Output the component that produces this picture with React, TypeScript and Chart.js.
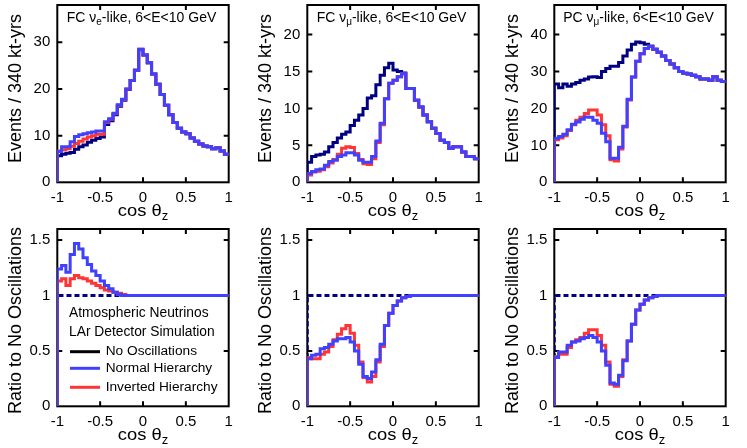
import React, { useEffect, useRef } from "react";
import { Chart, registerables } from "chart.js";

Chart.register(...registerables);

const FONT = "'Liberation Sans', Arial, Helvetica, sans-serif";
const NAVY = "#000080";
const BLUE = "#4040ff";
const RED = "#ff3535";

// bin edges in cos(theta_z)
const cosThetaEdges = [
  -1, -0.95, -0.9, -0.85, -0.8, -0.75, -0.7, -0.65, -0.6, -0.55, -0.5, -0.45, -0.4, -0.35, -0.3,
  -0.25, -0.2, -0.15, -0.1, -0.05, 0, 0.05, 0.1, 0.15, 0.2, 0.25, 0.3, 0.35, 0.4, 0.45, 0.5, 0.55,
  0.6, 0.65, 0.7, 0.75, 0.8, 0.85, 0.9, 0.95, 1,
];
const xTickValues = [-1, -0.5, 0, 0.5, 1];

// ---- FC nu_e-like ----
const fcE_NoOsc = [5.7, 6.0, 6.2, 6.4, 7.1, 7.6, 8.0, 8.6, 9.0, 9.4, 9.7, 12.4, 13.2, 14.5, 16.3, 17.6, 19.9, 21.8, 24.0, 28.4, 27.3, 25.6, 23.2, 21.0, 18.8, 16.5, 14.5, 12.8, 11.6, 10.8, 10.4, 9.5, 8.8, 8.2, 7.8, 7.6, 7.2, 7.4, 6.7, 6.0];
const fcE_NH = [6.6, 7.6, 7.6, 8.7, 9.8, 10.2, 10.4, 10.6, 10.8, 11.0, 11.0, 13.0, 13.6, 14.8, 16.6, 17.8, 20.0, 21.8, 24.0, 28.5, 27.3, 25.6, 23.2, 21.0, 18.8, 16.5, 14.5, 12.8, 11.6, 10.8, 10.4, 9.5, 8.8, 8.2, 7.8, 7.6, 7.2, 7.4, 6.7, 6.0];
const fcE_IH = [6.7, 7.0, 7.2, 7.7, 8.3, 8.8, 9.3, 9.7, 10.0, 10.3, 10.3, 12.8, 13.5, 14.7, 16.5, 17.7, 20.0, 21.8, 24.0, 28.5, 27.3, 25.6, 23.2, 21.0, 18.8, 16.5, 14.5, 12.8, 11.6, 10.8, 10.4, 9.5, 8.8, 8.2, 7.8, 7.6, 7.2, 7.4, 6.7, 6.0];

// ---- FC nu_mu-like ----
const fcMu_NoOsc = [2.7, 3.5, 3.7, 3.8, 4.1, 4.8, 5.4, 6.0, 6.5, 6.8, 7.7, 8.4, 9.1, 10.0, 11.4, 11.7, 13.2, 14.5, 15.5, 16.1, 15.2, 15.0, 14.8, 12.7, 12.7, 11.1, 10.2, 9.1, 8.2, 7.3, 6.6, 5.7, 5.4, 4.6, 4.8, 4.8, 4.1, 3.5, 3.5, 3.2];
const fcMu_NH = [1.2, 1.45, 1.7, 1.8, 2.3, 2.8, 3.0, 3.5, 3.7, 4.0, 4.0, 3.7, 3.0, 2.7, 2.7, 3.5, 5.6, 8.0, 11.3, 13.4, 13.8, 14.3, 14.7, 12.7, 12.7, 11.1, 10.2, 9.1, 8.2, 7.3, 6.6, 5.7, 5.4, 4.6, 4.8, 4.8, 4.1, 3.5, 3.5, 3.2];
const fcMu_IH = [1.0, 1.4, 1.5, 1.7, 2.1, 2.6, 3.1, 3.8, 4.6, 4.8, 4.7, 3.9, 3.1, 2.5, 2.4, 3.2, 5.4, 7.8, 11.3, 13.4, 13.8, 14.3, 14.7, 12.7, 12.7, 11.1, 10.2, 9.1, 8.2, 7.3, 6.6, 5.7, 5.4, 4.6, 4.8, 4.8, 4.1, 3.5, 3.5, 3.2];

// ---- PC nu_mu-like ----
const pcMu_NoOsc = [26.6, 25.6, 26.6, 26.0, 26.6, 27.0, 27.6, 28.0, 28.5, 28.6, 28.4, 30.0, 30.8, 31.4, 31.4, 32.4, 34.2, 35.8, 37.4, 38.0, 37.8, 37.4, 36.8, 36.0, 35.2, 34.2, 33.0, 32.0, 31.0, 30.0, 29.5, 29.3, 29.0, 28.6, 28.0, 28.0, 27.6, 28.6, 27.6, 27.3];
const pcMu_NH = [11.9, 12.4, 13.0, 14.2, 15.7, 16.3, 17.1, 17.7, 17.6, 16.8, 16.0, 13.3, 11.0, 6.5, 6.5, 9.5, 15.2, 22.5, 28.5, 32.8, 34.8, 36.2, 36.8, 36.0, 35.2, 34.2, 33.0, 32.0, 31.0, 30.0, 29.5, 29.3, 29.0, 28.6, 28.0, 28.0, 27.6, 28.6, 27.6, 27.3];
const pcMu_IH = [11.5, 12.0, 12.6, 14.0, 15.6, 16.8, 17.6, 18.6, 19.6, 19.6, 18.2, 15.6, 12.6, 6.1, 5.8, 9.0, 15.0, 22.3, 28.5, 32.8, 34.8, 36.2, 36.8, 36.0, 35.2, 34.2, 33.0, 32.0, 31.0, 30.0, 29.5, 29.3, 29.0, 28.6, 28.0, 28.0, 27.6, 28.6, 27.6, 27.3];

// ---- Ratios to no oscillations ----
const ratio_NoOsc = [1, 1, 1, 1, 1, 1, 1, 1, 1, 1, 1, 1, 1, 1, 1, 1, 1, 1, 1, 1, 1, 1, 1, 1, 1, 1, 1, 1, 1, 1, 1, 1, 1, 1, 1, 1, 1, 1, 1, 1];
const fcE_RatioNH = [1.24, 1.27, 1.21, 1.37, 1.47, 1.42, 1.34, 1.28, 1.22, 1.18, 1.13, 1.09, 1.06, 1.03, 1.01, 1.0, 1.0, 1.0, 1.0, 1.0, 1.0, 1.0, 1.0, 1.0, 1.0, 1.0, 1.0, 1.0, 1.0, 1.0, 1.0, 1.0, 1.0, 1.0, 1.0, 1.0, 1.0, 1.0, 1.0, 1.0];
const fcE_RatioIH = [1.13, 1.15, 1.09, 1.15, 1.18, 1.16, 1.15, 1.13, 1.11, 1.09, 1.07, 1.05, 1.04, 1.03, 1.02, 1.01, 1.0, 1.0, 1.0, 1.0, 1.0, 1.0, 1.0, 1.0, 1.0, 1.0, 1.0, 1.0, 1.0, 1.0, 1.0, 1.0, 1.0, 1.0, 1.0, 1.0, 1.0, 1.0, 1.0, 1.0];
const fcMu_RatioNH = [0.43, 0.46, 0.47, 0.52, 0.53, 0.56, 0.59, 0.61, 0.61, 0.62, 0.58, 0.5, 0.38, 0.27, 0.25, 0.31, 0.42, 0.56, 0.73, 0.84, 0.91, 0.95, 0.98, 0.99, 1.0, 1.0, 1.0, 1.0, 1.0, 1.0, 1.0, 1.0, 1.0, 1.0, 1.0, 1.0, 1.0, 1.0, 1.0, 1.0];
const fcMu_RatioIH = [0.44, 0.43, 0.43, 0.47, 0.49, 0.54, 0.6, 0.65, 0.7, 0.73, 0.66, 0.55, 0.4, 0.26, 0.22, 0.27, 0.4, 0.54, 0.73, 0.84, 0.91, 0.95, 0.98, 0.99, 1.0, 1.0, 1.0, 1.0, 1.0, 1.0, 1.0, 1.0, 1.0, 1.0, 1.0, 1.0, 1.0, 1.0, 1.0, 1.0];
const pcMu_RatioNH = [0.44, 0.49, 0.49, 0.55, 0.58, 0.59, 0.61, 0.62, 0.64, 0.62, 0.58, 0.5, 0.37, 0.21, 0.2, 0.28, 0.41, 0.59, 0.74, 0.87, 0.92, 0.96, 0.98, 0.99, 1.0, 1.0, 1.0, 1.0, 1.0, 1.0, 1.0, 1.0, 1.0, 1.0, 1.0, 1.0, 1.0, 1.0, 1.0, 1.0];
const pcMu_RatioIH = [0.45, 0.47, 0.47, 0.53, 0.58, 0.6, 0.62, 0.66, 0.69, 0.69, 0.64, 0.55, 0.4, 0.2, 0.18, 0.27, 0.42, 0.59, 0.74, 0.87, 0.92, 0.96, 0.98, 0.99, 1.0, 1.0, 1.0, 1.0, 1.0, 1.0, 1.0, 1.0, 1.0, 1.0, 1.0, 1.0, 1.0, 1.0, 1.0, 1.0];

const eventsTicks30 = [0, 10, 20, 30];
const eventsTicks20 = [0, 5, 10, 15, 20];
const eventsTicks40 = [0, 10, 20, 30, 40];
const ratioTicks = [0, 0.5, 1, 1.5];

const legendHeader = ["Atmospheric Neutrinos", "LAr Detector Simulation"];
const legendLabels = ["No Oscillations", "Normal Hierarchy", "Inverted Hierarchy"];
const legendColors = ["#000000", BLUE, RED];

type Seg = [string, boolean];

interface Series {
  values: number[];
  color: string;
  dash?: number[];
}
interface Panel {
  left: number;
  top: number;
  yMax: number;
  yTicks: number[];
  yTitle: string;
  yTitleCy: number;
  label?: Seg[];
  legend?: boolean;
  series: Series[];
}

const CANVAS_W = 240;
const CANVAS_H = 224;
const Y_AXIS_W = 57.3;
const X_AXIS_H = 41.7;
const PAD_TOP = 5;

const panels: Panel[] = [
  {
    left: 0, top: 0, yMax: 38, yTicks: eventsTicks30, yTitle: "Events / 340 kt-yrs", yTitleCy: 88.5,
    label: [["FC \u03bd", false], ["e", true], ["-like, 6<E<10 GeV", false]],
    series: [{ values: fcE_NH, color: BLUE }, { values: fcE_IH, color: RED }, { values: fcE_NoOsc, color: NAVY }],
  },
  {
    left: 250, top: 0, yMax: 24, yTicks: eventsTicks20, yTitle: "Events / 340 kt-yrs", yTitleCy: 88.5,
    label: [["FC \u03bd", false], ["\u03bc", true], ["-like, 6<E<10 GeV", false]],
    series: [{ values: fcMu_NH, color: BLUE }, { values: fcMu_IH, color: RED }, { values: fcMu_NoOsc, color: NAVY }],
  },
  {
    left: 497, top: 0, yMax: 48, yTicks: eventsTicks40, yTitle: "Events / 340 kt-yrs", yTitleCy: 88.5,
    label: [["PC \u03bd", false], ["\u03bc", true], ["-like, 6<E<10 GeV", false]],
    series: [{ values: pcMu_NH, color: BLUE }, { values: pcMu_IH, color: RED }, { values: pcMu_NoOsc, color: NAVY }],
  },
  {
    left: 0, top: 224, yMax: 1.6, yTicks: ratioTicks, yTitle: "Ratio to No Oscillations", yTitleCy: 96.5,
    legend: true,
    series: [{ values: fcE_RatioNH, color: BLUE }, { values: fcE_RatioIH, color: RED }, { values: ratio_NoOsc, color: NAVY, dash: [5, 3] }],
  },
  {
    left: 250, top: 224, yMax: 1.6, yTicks: ratioTicks, yTitle: "Ratio to No Oscillations", yTitleCy: 96.5,
    series: [{ values: fcMu_RatioNH, color: BLUE }, { values: fcMu_RatioIH, color: RED }, { values: ratio_NoOsc, color: NAVY, dash: [5, 3] }],
  },
  {
    left: 497, top: 224, yMax: 1.6, yTicks: ratioTicks, yTitle: "Ratio to No Oscillations", yTitleCy: 96.5,
    series: [{ values: pcMu_RatioNH, color: BLUE }, { values: pcMu_RatioIH, color: RED }, { values: ratio_NoOsc, color: NAVY, dash: [5, 3] }],
  },
];

function stepPoints(values: number[]) {
  const pts = [{ x: cosThetaEdges[0], y: 0 }];
  values.forEach((v, i) => pts.push({ x: cosThetaEdges[i], y: v }));
  pts.push({ x: cosThetaEdges[values.length], y: values[values.length - 1] });
  return pts;
}

// draws text segments (normal / subscript), centred on cx, with optional horizontal stretch
function drawRich(ctx: CanvasRenderingContext2D, segs: Seg[], cx: number, cy: number, size: number, sx: number) {
  const subSize = Math.round(size * 0.68);
  const widths = segs.map(([t, sub]) => {
    ctx.font = `${sub ? subSize : size}px ${FONT}`;
    return ctx.measureText(t).width;
  });
  const total = widths.reduce((a, b) => a + b, 0);
  ctx.save();
  ctx.translate(cx, cy);
  ctx.scale(sx, 1);
  let x = -total / 2;
  ctx.textAlign = "left";
  ctx.textBaseline = "middle";
  segs.forEach(([t, sub], i) => {
    ctx.font = `${sub ? subSize : size}px ${FONT}`;
    ctx.fillText(t, x, sub ? size * 0.32 : 0);
    x += widths[i];
  });
  ctx.restore();
}

function makePlugins(p: Panel) {
  const frame = {
    id: "frame",
    beforeDatasetsDraw(chart: any) {
      const { ctx, chartArea: a, scales } = chart;
      ctx.save();
      ctx.strokeStyle = "#000";
      ctx.lineWidth = 2;
      ctx.strokeRect(a.left, a.top, a.right - a.left, a.bottom - a.top);
      const tl = 5;
      ctx.beginPath();
      scales.x.ticks.forEach((t: any) => {
        const px = scales.x.getPixelForValue(t.value);
        if (px <= a.left + 1 || px >= a.right - 1) return;
        ctx.moveTo(px, a.bottom);
        ctx.lineTo(px, a.bottom - tl);
        ctx.moveTo(px, a.top);
        ctx.lineTo(px, a.top + tl);
      });
      scales.y.ticks.forEach((t: any) => {
        const py = scales.y.getPixelForValue(t.value);
        if (py >= a.bottom - 1 || py <= a.top + 1) return;
        ctx.moveTo(a.left, py);
        ctx.lineTo(a.left + tl, py);
        ctx.moveTo(a.right, py);
        ctx.lineTo(a.right - tl, py);
      });
      ctx.stroke();
      ctx.restore();
    },
  };
  const decor = {
    id: "decor",
    afterDraw(chart: any) {
      const { ctx, chartArea: a } = chart;
      const cx = (a.left + a.right) / 2;
      ctx.save();
      ctx.fillStyle = "#000";
      // x title with subscript
      drawRich(ctx, [["cos \u03b8", false], ["z", true]], cx, a.bottom + 29, 17, 1.08);
      // y title
      ctx.save();
      ctx.translate(a.left - 41, p.yTitleCy);
      ctx.rotate(-Math.PI / 2);
      ctx.font = `18px ${FONT}`;
      ctx.textAlign = "center";
      ctx.textBaseline = "middle";
      ctx.fillText(p.yTitle, 0, 0);
      ctx.restore();
      if (p.label) drawRich(ctx, p.label, cx - 1.5, a.top + 13, 14, 1);
      if (p.legend) {
        ctx.textAlign = "left";
        ctx.textBaseline = "middle";
        ctx.font = `13.8px ${FONT}`;
        ctx.fillText(legendHeader[0], a.left + 11.7, a.top + 84);
        ctx.fillText(legendHeader[1], a.left + 11.7, a.top + 102.7);
        const ys = [122.7, 139.3, 158.3];
        legendLabels.forEach((lab, i) => {
          const y = a.top + ys[i];
          ctx.strokeStyle = legendColors[i];
          ctx.lineWidth = 3;
          ctx.beginPath();
          ctx.moveTo(a.left + 12.7, y);
          ctx.lineTo(a.left + 42.7, y);
          ctx.stroke();
          ctx.font = `13.7px ${FONT}`;
          ctx.fillStyle = "#000";
          ctx.fillText(lab, a.left + 48.4, y);
        });
      }
      ctx.restore();
    },
  };
  return [frame, decor];
}

const tickLabel = (v: number | string) => String(Number(v));

function PanelChart({ p }: { p: Panel }) {
  const ref = useRef<HTMLCanvasElement>(null);
  useEffect(() => {
    const canvas = ref.current;
    if (!canvas) return;
    const chart = new Chart(canvas, {
      type: "line",
      data: {
        datasets: p.series.map((s) => ({
          data: stepPoints(s.values),
          borderColor: s.color,
          backgroundColor: s.color,
          borderWidth: 3,
          borderDash: s.dash || [],
          pointRadius: 0,
          pointHoverRadius: 0,
          stepped: true,
          fill: false,
          tension: 0,
        })),
      },
      options: {
        animation: false,
        responsive: false,
        devicePixelRatio: 1,
        events: [],
        layout: { padding: { top: PAD_TOP, right: CANVAS_W - Y_AXIS_W - 171.4, left: 0, bottom: 0 } },
        plugins: { legend: { display: false }, tooltip: { enabled: false }, title: { display: false } },
        scales: {
          x: {
            type: "linear",
            min: -1,
            max: 1,
            afterBuildTicks: (s: any) => {
              s.ticks = xTickValues.map((v) => ({ value: v }));
            },
            afterFit: (s: any) => {
              s.height = X_AXIS_H;
              s.paddingLeft = 0;
              s.paddingRight = 0;
            },
            grid: { display: false, drawTicks: false },
            border: { display: false },
            ticks: { font: { size: 15, family: FONT }, color: "#000", padding: 7, maxRotation: 0, autoSkip: false, callback: tickLabel },
          },
          y: {
            type: "linear",
            min: 0,
            max: p.yMax,
            afterBuildTicks: (s: any) => {
              s.ticks = p.yTicks.map((v) => ({ value: v }));
            },
            afterFit: (s: any) => {
              s.width = Y_AXIS_W;
              s.paddingTop = 0;
              s.paddingBottom = 0;
            },
            grid: { display: false, drawTicks: false },
            border: { display: false },
            ticks: { font: { size: 15, family: FONT }, color: "#000", padding: 7, autoSkip: false, callback: tickLabel },
          },
        },
      },
      plugins: makePlugins(p),
    } as any);
    return () => chart.destroy();
  }, [p]);
  return (
    <canvas
      ref={ref}
      width={CANVAS_W}
      height={CANVAS_H}
      style={{ position: "absolute", left: p.left, top: p.top, width: CANVAS_W, height: CANVAS_H }}
    />
  );
}

export default function App() {
  return (
    <div style={{ position: "fixed", left: 0, top: 0, width: 747, height: 448, background: "#fff", overflow: "hidden" }}>
      {panels.map((p, i) => (
        <PanelChart key={i} p={p} />
      ))}
    </div>
  );
}
